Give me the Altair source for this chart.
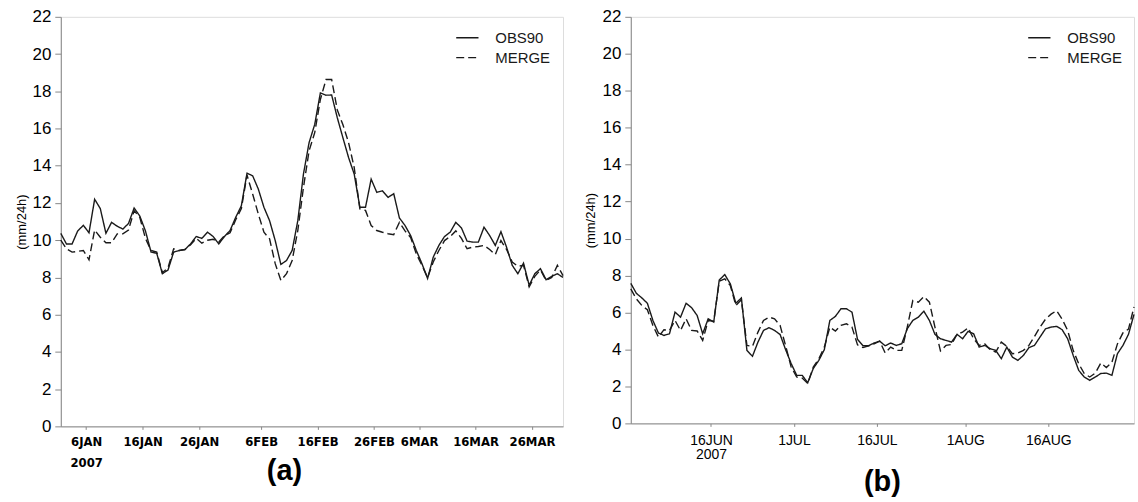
import altair as alt
import pandas as pd

# Daily mean precipitation (mm/24h), one value per day, plotted at local noon
start_a = "2007-01-01 12:00"
start_b = "2007-06-01 12:00"

obs_a = [
    10.37, 9.8, 9.8, 10.5, 10.8, 10.4, 12.2, 11.7, 10.37, 10.96,
    10.75, 10.6, 10.9, 11.73, 11.3, 10.5, 9.36, 9.3, 8.2, 8.4,
    9.36, 9.45, 9.5, 9.8, 10.2, 10.1, 10.43, 10.2, 9.8, 10.2,
    10.52, 11.23, 11.85, 13.6, 13.46, 12.75, 11.77, 11.05, 9.98, 8.7,
    8.91, 9.45, 11.05, 13.55, 15.24, 16.22, 17.91, 17.79, 17.8, 16.58,
    15.5, 14.44, 13.55, 11.77, 11.77, 13.28, 12.57, 12.65, 12.3, 12.5,
    11.2, 10.79, 10.25, 9.45, 8.74, 7.94, 9.09, 9.72, 10.2, 10.43,
    10.96, 10.66, 9.95, 9.9, 9.9, 10.7, 10.25, 9.72, 10.46, 9.62,
    8.65, 8.2, 8.77, 7.58, 8.2, 8.47, 7.88, 8.06, 8.2, 8.0,
]
merge_a = [
    10.0, 9.54, 9.36, 9.4, 9.45, 8.95, 10.55, 10.16, 9.86, 9.86,
    10.34, 10.34, 10.55, 11.59, 11.23, 10.1, 9.45, 9.36, 8.25, 8.52,
    9.54, 9.45, 9.5, 9.75, 10.1, 9.84, 10.0, 10.05, 9.9, 10.25,
    10.4, 11.1, 11.7, 13.5, 12.48, 11.41, 10.43, 10.07, 8.74, 7.84,
    8.2, 8.91, 10.52, 12.83, 14.8, 15.78, 17.56, 18.63, 18.63, 17.0,
    16.2, 15.24, 13.9, 11.68, 11.6, 10.79, 10.52, 10.43, 10.35, 10.3,
    10.96, 10.5, 10.15, 9.27, 8.65, 8.0, 8.83, 9.45, 9.98, 10.2,
    10.5, 10.1, 9.54, 9.63, 9.66, 9.72, 9.5, 9.23, 9.98, 9.5,
    8.83, 8.6, 8.65, 7.5, 8.06, 8.4, 7.84, 8.0, 8.65, 8.1,
]
obs_b = [
    7.58, 7.04, 6.79, 6.5, 5.57, 4.89, 4.76, 4.85, 6.02, 5.75,
    6.5, 6.26, 5.84, 4.85, 5.66, 5.48, 7.76, 8.05, 7.55, 6.5,
    6.79, 3.95, 3.63, 4.4, 5.03, 5.18, 5.03, 4.81, 3.99, 3.24,
    2.6, 2.6, 2.2, 2.97, 3.41, 3.99, 5.57, 5.79, 6.2, 6.2,
    6.02, 4.55, 4.2, 4.2, 4.35, 4.45, 4.2, 4.35, 4.22, 4.31,
    5.12, 5.57, 5.75, 6.07, 5.57, 4.82, 4.58, 4.49, 4.4, 4.82,
    4.58, 4.98, 4.85, 4.13, 4.22, 4.04, 3.95, 3.5, 4.13, 3.59,
    3.41, 3.68, 4.1, 4.22, 4.67, 5.12, 5.21, 5.25, 5.07, 4.58,
    3.68, 2.87, 2.51, 2.33, 2.51, 2.7, 2.72, 2.6, 3.77, 4.22,
    4.82, 5.9,
]
merge_b = [
    7.28, 6.74, 6.38, 6.15, 5.3, 4.67, 5.07, 5.03, 5.57, 5.03,
    5.66, 5.03, 5.0, 4.49, 5.57, 5.53, 7.69, 7.82, 7.46, 6.38,
    6.69, 4.22, 4.17, 4.94, 5.57, 5.75, 5.66, 5.3, 4.2, 3.05,
    2.51, 2.45, 2.16, 3.05, 3.5, 4.13, 5.21, 5.0, 5.3, 5.39,
    5.21, 4.25, 4.1, 4.2, 4.3, 4.45, 3.81, 4.13, 3.95, 3.95,
    5.21, 6.65, 6.56, 6.86, 6.56, 5.21, 3.92, 4.22, 4.27, 4.82,
    4.94, 5.17, 4.58, 4.22, 4.31, 3.99, 3.86, 4.4, 4.17, 3.77,
    3.81, 3.95, 4.22, 4.7, 5.21, 5.64, 5.91, 6.1, 5.64, 5.03,
    3.95, 3.23, 2.7, 2.51, 2.72, 3.27, 3.02, 3.3, 4.3, 4.9,
    5.1, 6.3,
]

series_names = ["OBS90", "MERGE"]
dash_styles = [[1, 0], [8, 4]]

ticks_a = [(1, 6), (1, 16), (1, 26), (2, 6), (2, 16), (2, 26), (3, 6), (3, 16), (3, 26)]
ticks_b = [(6, 16), (7, 1), (7, 16), (8, 1), (8, 16)]
y_ticks = list(range(0, 23, 2))

INK = "#1a1a1a"
BASE_FONT = "Liberation Sans, Arial, Helvetica, sans-serif"


def long_frame(start, obs, merge):
    dates = pd.date_range(start, periods=len(obs), freq="D")
    rows = []
    for name, vals in zip(series_names, [obs, merge]):
        for d, v in zip(dates, vals):
            rows.append({"date": d.strftime("%Y-%m-%dT%H:%M:%S"), "value": v, "series": name})
    return pd.DataFrame(rows)


def panel(df, dom, ticks, first_tick, width, height, label_font, label_size,
          label_weight, line_height, label_pad, panel_title, title_x, title_y,
          legend_x):
    label_expr = (
        f"timeFormat(datum.value, '%m-%d') == '{first_tick}' ? "
        "[upper(timeFormat(datum.value, '%-d%b')), '2007'] : "
        "upper(timeFormat(datum.value, '%-d%b'))"
    )
    x_axis = alt.Axis(
        values=[alt.DateTime(year=2007, month=m, date=d) for m, d in ticks],
        labelExpr=label_expr,
        labelFont=label_font,
        labelFontSize=label_size,
        labelFontWeight=label_weight,
        labelLineHeight=line_height,
        labelPadding=label_pad,
        labelOverlap=False,
        labelBound=False,
        labelFlush=False,
        tickSize=3,
        title=panel_title,
        titleFontSize=29,
        titleFontWeight="bold",
        titleFont=BASE_FONT,
        titleX=title_x,
        titleY=title_y,
        titleAlign="center",
        titleBaseline="middle",
        grid=False,
    )
    y_axis = alt.Axis(
        values=y_ticks,
        title="(mm/24h)",
        titleFontSize=13,
        titleFontWeight="normal",
        titleFont=BASE_FONT,
        titlePadding=4,
        labelFontSize=17,
        labelFont=BASE_FONT,
        labelPadding=4,
        tickSize=6,
        grid=False,
    )
    legend = alt.Legend(
        title=None,
        orient="none",
        legendX=legend_x,
        legendY=9,
        symbolType="stroke",
        symbolSize=500,
        symbolStrokeWidth=1.3,
        symbolStrokeColor=INK,
        labelFontSize=15,
        labelFont=BASE_FONT,
        labelColor=INK,
        labelOffset=16,
        rowPadding=0,
        padding=0,
    )
    return (
        alt.Chart(df)
        .mark_line(color=INK, strokeWidth=1.4)
        .encode(
            x=alt.X("date:T", scale=alt.Scale(domain=dom, nice=False), axis=x_axis),
            y=alt.Y("value:Q", scale=alt.Scale(domain=[0, 22], nice=False), axis=y_axis),
            strokeDash=alt.StrokeDash(
                "series:N",
                scale=alt.Scale(domain=series_names, range=dash_styles),
                sort=series_names,
                legend=legend,
            ),
            detail="series:N",
        )
        .properties(width=width, height=height)
    )


df_a = long_frame(start_a, obs_a, merge_a)
df_b = long_frame(start_b, obs_b, merge_b)

dom_a = [alt.DateTime(year=2007, month=1, date=1, hours=12),
         alt.DateTime(year=2007, month=3, date=31, hours=12)]
dom_b = [alt.DateTime(year=2007, month=6, date=1, hours=12),
         alt.DateTime(year=2007, month=8, date=31, hours=12)]

left = panel(df_a, dom_a, ticks_a, "01-06", 504, 411,
             "Liberation Sans Narrow, DejaVu Sans Condensed, Arial Narrow, sans-serif",
             13, "bold", 21, 6, "(a)", 224, 44, 396)
right = panel(df_b, dom_b, ticks_b, "06-16", 505, 408,
              BASE_FONT, 14, "normal", 14, 7, "(b)", 252, 58, 398)

chart = (
    alt.hconcat(left, right, spacing=17)
    .resolve_scale(x="independent", strokeDash="independent")
    .resolve_legend(strokeDash="independent")
    .properties(padding={"left": 14, "top": 6, "right": 0, "bottom": 0})
    .configure_view(stroke=INK, strokeWidth=2)
    .configure_axis(domainColor=INK, domainWidth=2, tickColor=INK, tickWidth=1.5,
                    labelColor=INK, titleColor=INK)
    .configure(background="white")
)

chart.save("out.html", embed_options={"renderer": "svg", "actions": False})
